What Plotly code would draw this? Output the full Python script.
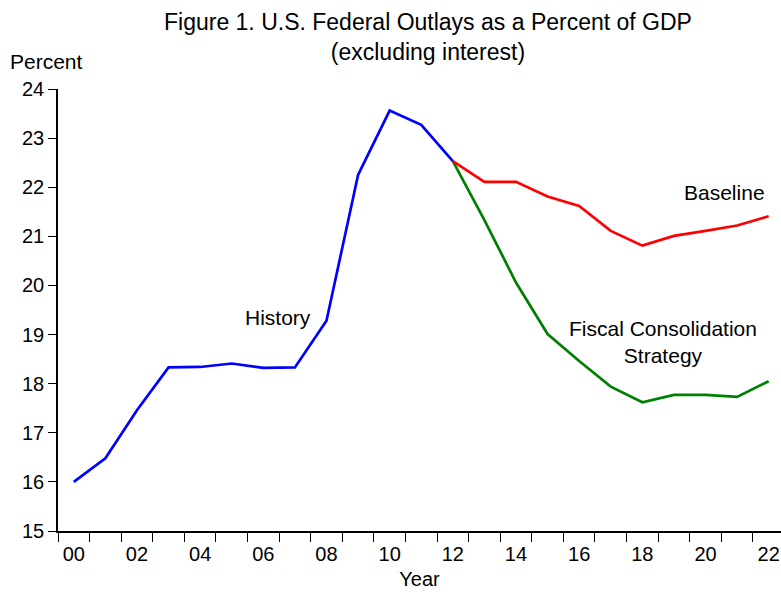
import plotly.graph_objects as go

years = [str(y) for y in range(2000, 2023)]
tick_text = ["%02d" % (y % 100) if y % 2 == 0 else "" for y in range(2000, 2023)]

history_years = years[:13]
history = [16.00, 16.48, 17.46, 18.33, 18.34, 18.41, 18.32, 18.33, 19.28, 22.25, 23.56, 23.27, 22.53]

proj_years = years[12:]
baseline = [22.53, 22.11, 22.11, 21.81, 21.62, 21.11, 20.81, 21.01, 21.11, 21.22, 21.41]
fiscal = [22.53, 21.33, 20.06, 19.01, 18.46, 17.94, 17.62, 17.77, 17.77, 17.73, 18.05]

FONT = "Liberation Sans, Arial, sans-serif"
W, H = 781, 592
L, R, T, B = 58, 0, 89, 61
pw = W - L - R
ph = H - T - B


def px_x(p):
    return (p - L) / pw


def px_y(p):
    return (H - B - p) / ph


fig = go.Figure()
fig.add_trace(go.Scatter(x=proj_years, y=fiscal, mode="lines",
                         line=dict(color="#008000", width=2.7), name="Fiscal Consolidation Strategy"))
fig.add_trace(go.Scatter(x=proj_years, y=baseline, mode="lines",
                         line=dict(color="#FF0000", width=2.7), name="Baseline"))
fig.add_trace(go.Scatter(x=history_years, y=history, mode="lines",
                         line=dict(color="#0000FF", width=2.7), name="History"))

fig.update_layout(
    width=W, height=H,
    margin=dict(l=L, r=R, t=T, b=B, pad=0),
    paper_bgcolor="white", plot_bgcolor="white",
    showlegend=False,
    font=dict(family=FONT, size=20, color="black"),
    xaxis=dict(type="category", categoryorder="array", categoryarray=years,
               range=[-0.5, 22.39], tickmode="array", tickvals=years, ticktext=tick_text,
               tickson="boundaries", ticks="outside", ticklen=9, tickwidth=1.2, tickcolor="black",
               ticklabelstandoff=4,
               showline=True, linecolor="black", linewidth=1.5, showgrid=False, zeroline=False,
               tickfont=dict(size=20),
               title=dict(text="Year", font=dict(size=20), standoff=8)),
    yaxis=dict(range=[15, 24], dtick=1, tick0=15, ticks="outside", ticklen=8, tickwidth=1.2,
               tickcolor="black", showline=True, linecolor="black", linewidth=1.5,
               showgrid=False, zeroline=False, tickfont=dict(size=20)),
)

fig.add_annotation(text="Figure 1. U.S. Federal Outlays as a Percent of GDP<br>(excluding interest)",
                   xref="paper", yref="paper", x=px_x(428), y=px_y(37),
                   xanchor="center", yanchor="middle", align="center", showarrow=False,
                   font=dict(family=FONT, size=23, color="black"))

ann_font = dict(family=FONT, size=21, color="black")
fig.add_annotation(text="Percent", xref="paper", yref="paper", x=px_x(46), y=px_y(61),
                   xanchor="center", yanchor="middle", showarrow=False, font=ann_font)
fig.add_annotation(text="History", xref="paper", yref="y", x=px_x(313), y=19.34,
                   xanchor="right", yanchor="middle", showarrow=False, font=ann_font)
fig.add_annotation(text="Baseline", xref="paper", yref="y", x=px_x(767), y=21.90,
                   xanchor="right", yanchor="middle", showarrow=False, font=ann_font)
fig.add_annotation(text="Fiscal Consolidation<br>Strategy", xref="paper", yref="y", x=px_x(662.5), y=18.84,
                   xanchor="center", yanchor="middle", align="center", showarrow=False, font=ann_font)

fig.write_html("out.html",
               config={"displayModeBar": False},
               post_script="document.body.style.margin='0';document.body.style.overflow='hidden';")
